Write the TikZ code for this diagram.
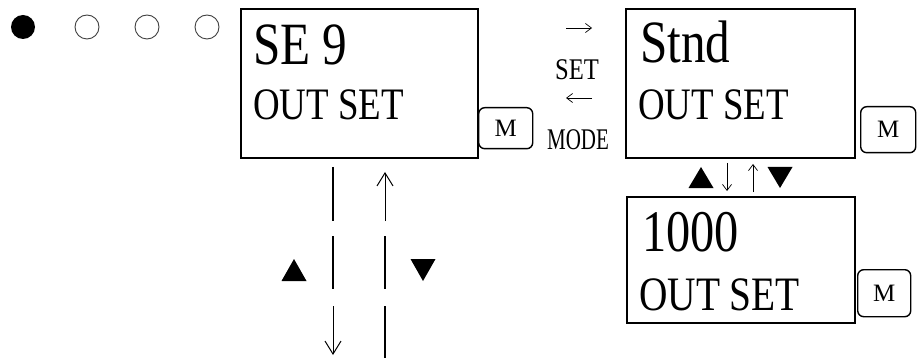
\documentclass[tikz,border=0pt]{standalone}
\usepackage{fontspec}
\setmainfont{Liberation Serif}
\newfontfamily\cond[FakeStretch=0.82]{Liberation Serif}
\newfontfamily\condd[FakeStretch=0.70]{Liberation Serif}
\usetikzlibrary{arrows.meta}
\begin{document}
\begin{tikzpicture}[x=1pt,y=-1pt,
  lcd/.style={draw,line width=2pt,inner sep=0,anchor=north west},
  mkey/.style={draw,line width=1.4pt,rounded corners=6pt,inner sep=0,anchor=north west,font=\fontsize{25}{25}\selectfont},
  big/.style={anchor=base west,inner sep=0,font=\cond\fontsize{60}{60}\selectfont},
  mid/.style={anchor=base west,inner sep=0,font=\cond\fontsize{45}{45}\selectfont},
  lab/.style={anchor=base,inner sep=0,font=\cond\fontsize{30}{30}\selectfont},
  seg/.style={line width=1.5pt},
  bigarr/.style={line width=1pt,-{Straight Barb[length=13pt,width=16pt,line width=1pt]}},
  smallarr/.style={line width=0.7pt,-{Straight Barb[length=6pt,width=9pt,line width=0.7pt]}},
  tri/.style={fill=black},
  dot/.style={draw=black!75,line width=0.9pt}]
\useasboundingbox (0,0) rectangle (920,358);
% indicator dots
\fill (23,27) circle (12);
\draw[dot] (87,27) circle (12);
\draw[dot] (147,27) circle (12);
\draw[dot] (207,27) circle (12);
% box 1
\node[lcd,minimum width=237pt,minimum height=149pt] (b1) at (240,8) {};
\node[big] (t1a) at (253,65) {SE 9};
\node[mid] (t1b) at (253,120) {OUT SET};
\node[mkey,minimum width=54pt,minimum height=41pt] (m1) at (478,107) {M};
% labels between boxes
\coordinate (sa1) at (566,28); \coordinate (sa2) at (592,28);
\draw[smallarr] (sa1) -- (sa2);
\node[lab] (set) at (577,80) {SET};
\coordinate (ma1) at (592,98); \coordinate (ma2) at (566,98);
\draw[smallarr] (ma1) -- (ma2);
\node[lab,font=\condd\fontsize{30}{30}\selectfont] (mode) at (578,150) {MODE};
% box 2
\node[lcd,minimum width=229pt,minimum height=149pt] (b2) at (625,8) {};
\node[big] (t2a) at (640,63) {Stnd};
\node[mid] (t2b) at (638,120) {OUT SET};
\node[mkey,minimum width=55pt,minimum height=46pt] (m2) at (860,106) {M};
% between box 2 and 3
\fill[tri] (688.5,188) -- (713.5,188) -- (701,167) -- cycle;
\coordinate (d1) at (727,163); \coordinate (d2) at (727,191);
\draw[smallarr] (d1) -- (d2);
\coordinate (u1) at (753,192); \coordinate (u2) at (753,164);
\draw[smallarr] (u1) -- (u2);
\fill[tri] (767.5,167) -- (792.5,167) -- (780,188) -- cycle;
% box 3
\node[lcd,minimum width=228pt,minimum height=126pt] (b3) at (626,196) {};
\node[big,font=\cond\fontsize{59}{59}\selectfont] (t3a) at (642,251) {1000};
\node[mid,font=\cond\fontsize{48}{48}\selectfont] (t3b) at (639,310) {OUT SET};
\node[mkey,minimum width=53pt,minimum height=47pt] (m3) at (857,269) {M};
% vertical flow lines under box 1
\coordinate (l1) at (333,167); \coordinate (l2) at (333,221);
\coordinate (l3) at (333,236); \coordinate (l4) at (333,289);
\coordinate (l5) at (333,306); \coordinate (l6) at (333,355);
\draw[seg] (l1) -- (l2);
\draw[seg] (l3) -- (l4);
\draw[bigarr] (l5) -- (l6);
\coordinate (r1) at (385,221); \coordinate (r2) at (385,172);
\coordinate (r3) at (385,236); \coordinate (r4) at (385,289);
\coordinate (r5) at (385,306); \coordinate (r6) at (385,358);
\draw[bigarr] (r1) -- (r2);
\draw[seg] (r3) -- (r4);
\draw[seg] (r5) -- (r6);
\fill[tri] (281.5,281) -- (306.5,281) -- (294,259) -- cycle;
\fill[tri] (410.5,259) -- (435.5,259) -- (423,281) -- cycle;
\end{tikzpicture}
\end{document}
